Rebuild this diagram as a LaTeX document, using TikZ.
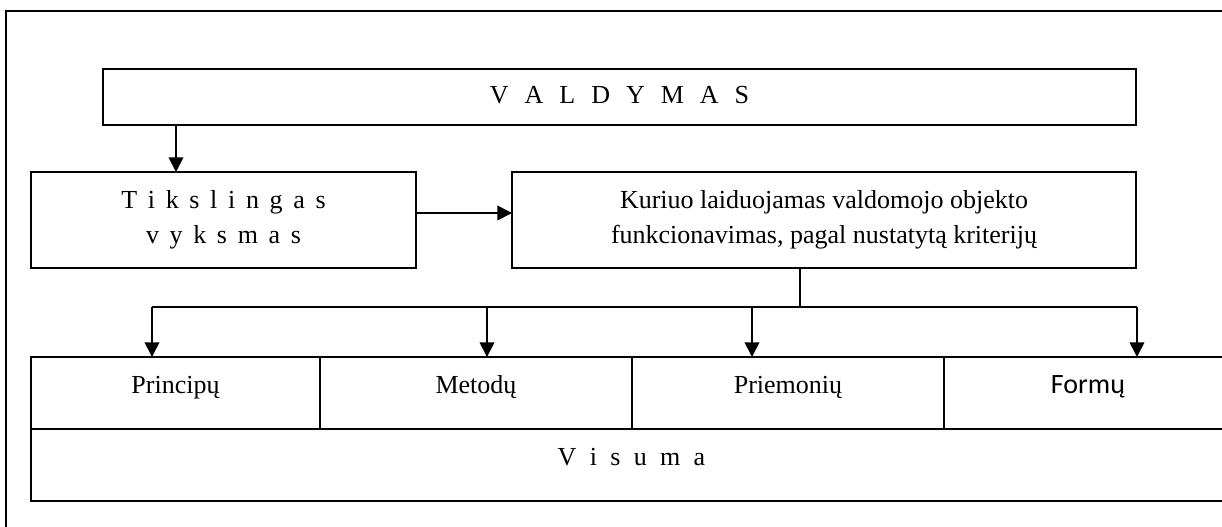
\documentclass[tikz,border=0pt]{standalone}
\usepackage{fontspec}
\setmainfont{Liberation Serif}
\newfontfamily\formfont{Carlito}
\usetikzlibrary{arrows.meta}
\newcommand\spread[2]{{\spaceskip=#1\relax #2}}

\begin{document}
\begin{tikzpicture}[x=0.75pt,y=-0.75pt,
  box/.style={draw,line width=1.3pt,inner sep=0pt,outer sep=0pt,align=center,
    font=\fontsize{19.5pt}{26.5pt}\selectfont},
  cell/.style={box,minimum height=54pt,text height=12pt,text depth=12pt},
  line/.style={line width=1.3pt},
  arr/.style={line,-{Triangle[length=11pt,width=11pt]}}]
  \useasboundingbox (0,0) rectangle (1222,526);
  \clip (0,0) rectangle (1222,526);
  \draw [line width=1pt] (6,11) rectangle (1240,540);

  \node [box,minimum width=774.75pt,minimum height=42pt,text height=12pt,text depth=3pt] (V) at (619.5,97) {\spread{12pt}{V A L D Y M A S}};
  \node [box,minimum width=288.75pt,minimum height=72pt] (T) at (223.5,220) {\spread{8pt}{T i k s l i n g a s}\\ \spread{8pt}{v y k s m a s}};
  \node [box,minimum width=468pt,minimum height=72pt] (K) at (824,220) {Kuriuo laiduojamas valdomojo objekto\\ funkcionavimas, pagal nustatytą kriterijų};

  \node [cell,minimum width=216.75pt] (P1) at (175.5,393) {Principų};
  \node [cell,minimum width=234pt] (P2) at (476,393) {Metodų};
  \node [cell,minimum width=234pt] (P3) at (788,393) {Priemonių};
  \node [cell,minimum width=216pt,font=\formfont\fontsize{21pt}{26pt}\selectfont] (P4) at (1088,393) {Formų};
  \node [cell,minimum width=900.75pt] (W) at (631.5,465) {\spread{10pt}{V i s u m a}};

  \coordinate (a1) at (176,0);
  \coordinate (a2) at (0,213);
  \coordinate (s) at (800,307);
  \coordinate (b1) at (152,307);
  \coordinate (b2) at (487,307);
  \coordinate (b3) at (752,307);
  \coordinate (b4) at (1137,307);

  \draw [arr] (V.south -| a1) -- (T.north -| a1);
  \draw [arr] (T.east |- a2) -- (K.west |- a2);
  \draw [line] (K.south -| s) -- (s);
  \draw [line] (b1) -- (b4);
  \draw [arr] (b1) -- (b1 |- P1.north);
  \draw [arr] (b2) -- (b2 |- P2.north);
  \draw [arr] (b3) -- (b3 |- P3.north);
  \draw [arr] (b4) -- (b4 |- P4.north);
\end{tikzpicture}
\end{document}
